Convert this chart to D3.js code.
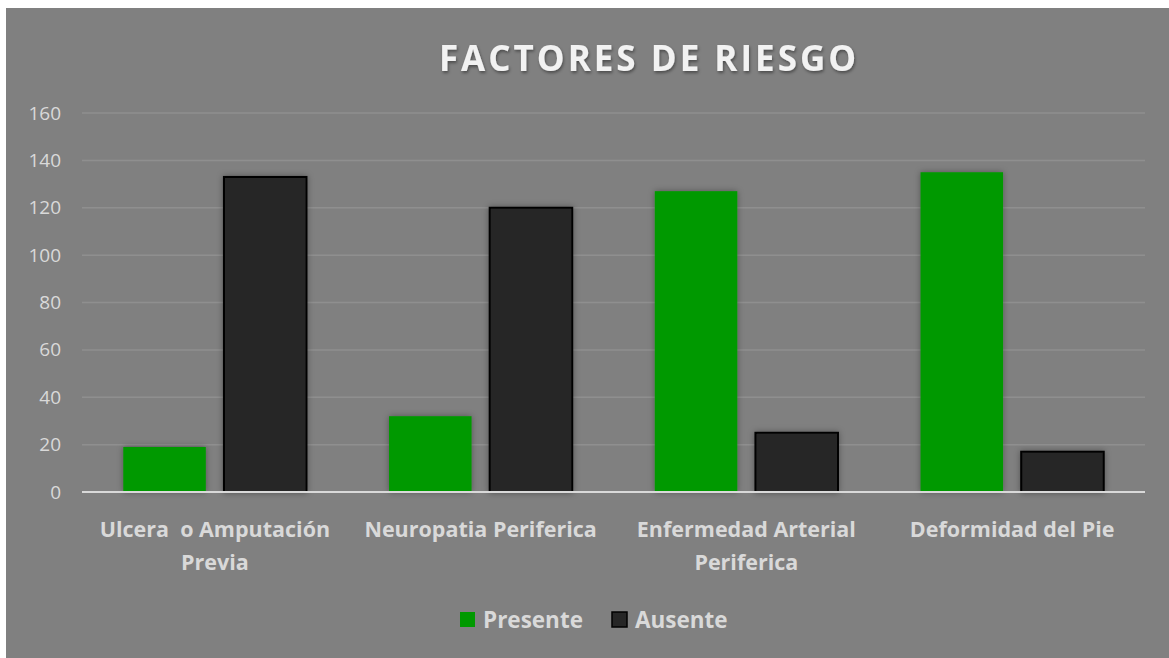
<!DOCTYPE html>
<html><head><meta charset="utf-8">
<script src="https://cdn.jsdelivr.net/npm/d3@7"></script>
<style>body{margin:0;background:#fff}svg{display:block}text{white-space:pre}</style>
</head><body>
<script>
const categories = [["Ulcera  o Amputación","Previa"],["Neuropatia Periferica"],["Enfermedad Arterial","Periferica"],["Deformidad del Pie"]];
const seriesNames = ["Presente","Ausente"];
const presente = [19, 32, 127, 135];
const ausente = [133, 120, 25, 17];
const yTicks = [0,20,40,60,80,100,120,140,160];
const title = "FACTORES DE RIESGO";

const W=1169,H=658;
const colors={Presente:"#009900",Ausente:"#262626"};
const svg=d3.select("body").append("svg").attr("width",W).attr("height",H);
const defs=svg.append("defs");
const f=defs.append("filter").attr("id","sh").attr("x","-20%").attr("y","-20%").attr("width","140%").attr("height","140%");
f.append("feDropShadow").attr("dx",0).attr("dy",0).attr("stdDeviation",3).attr("flood-color","#000").attr("flood-opacity",0.35);
const ft=defs.append("filter").attr("id","tsh");
ft.append("feDropShadow").attr("dx",1).attr("dy",2).attr("stdDeviation",1.5).attr("flood-color","#000").attr("flood-opacity",0.4);

svg.append("rect").attr("x",6).attr("y",8).attr("width",W-6).attr("height",H-8).attr("fill","#808080");

const font="'Open Sans', 'Noto Sans', sans-serif";
const x=d3.scaleBand().domain(d3.range(categories.length)).range([82,1145]);
const y=d3.scaleLinear().domain([0,160]).range([492,113]);
const xs=d3.scaleBand().domain(seriesNames).range([0,x.bandwidth()]).paddingInner(0.18).paddingOuter(0.41);

const g=svg.append("g");
g.selectAll("line.grid").data(yTicks.filter(d=>d>0)).join("line")
 .attr("x1",82).attr("x2",1145).attr("y1",d=>y(d)).attr("y2",d=>y(d))
 .attr("stroke","#8f8f8f").attr("stroke-width",1.5);

const yAxis=d3.axisLeft(y).tickValues(yTicks).tickSize(0).tickPadding(0);
const ya=svg.append("g").attr("transform","translate(61,0)").call(yAxis);
ya.select(".domain").remove();
ya.selectAll("text").attr("fill","#d9d9d9").attr("font-family",font).attr("font-size",19);

const data=categories.map((c,i)=>({i,vals:[{k:"Presente",v:presente[i]},{k:"Ausente",v:ausente[i]}]}));
const grp=svg.selectAll("g.cat").data(data).join("g").attr("transform",d=>`translate(${x(d.i)},0)`);
grp.selectAll("rect").data(d=>d.vals).join("rect")
 .attr("x",d=>xs(d.k)).attr("width",xs.bandwidth())
 .attr("y",d=>y(d.v)).attr("height",d=>y(0)-y(d.v))
 .attr("fill",d=>colors[d.k])
 .attr("stroke",d=>d.k==="Ausente"?"#000":"none").attr("stroke-width",2)
 .attr("filter","url(#sh)");

svg.append("line").attr("x1",82).attr("x2",1145).attr("y1",y(0)).attr("y2",y(0)).attr("stroke","#d9d9d9").attr("stroke-width",2);

const lab=svg.selectAll("text.cat").data(categories).join("text").attr("class","cat")
 .attr("x",(d,i)=>x(i)+x.bandwidth()/2).attr("y",537)
 .attr("text-anchor","middle").attr("fill","#d9d9d9").attr("font-family",font).attr("font-weight","bold").attr("font-size",21.5);
lab.selectAll("tspan").data(d=>d).join("tspan").attr("x",function(){return this.parentNode.getAttribute("x");})
 .attr("dy",(d,i)=>i?33:0).text(d=>d);

svg.append("text").attr("x",649).attr("y",71).attr("text-anchor","middle").attr("fill","#f2f2f2")
 .attr("font-family",font).attr("font-weight","bold").attr("font-size",35).attr("letter-spacing",3)
 .attr("filter","url(#tsh)").text(title);

const leg=svg.append("g");
const lx=[460,612];
seriesNames.forEach((s,i)=>{
  leg.append("rect").attr("x",lx[i]).attr("y",612).attr("width",15).attr("height",15).attr("fill",colors[s])
   .attr("stroke",s==="Ausente"?"#000":"none").attr("stroke-width",1.5);
  leg.append("text").attr("x",lx[i]+23).attr("y",628).attr("fill","#d9d9d9").attr("font-family",font)
   .attr("font-weight","bold").attr("font-size",22.5).text(s);
});
</script>
</body></html>
